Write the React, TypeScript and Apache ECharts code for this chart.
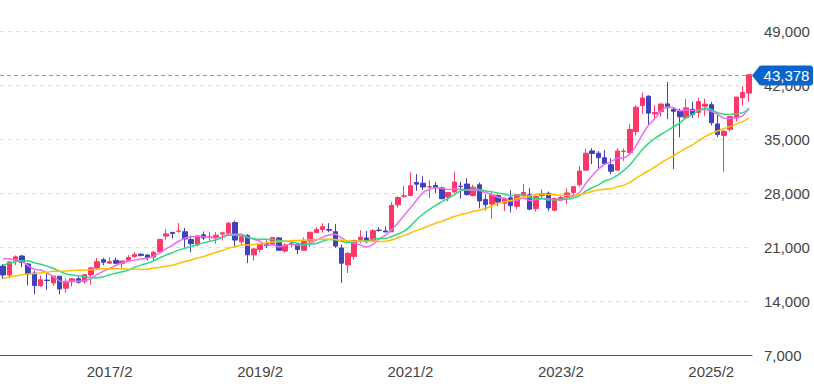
import React, { useEffect, useRef } from "react";
import * as echarts from "echarts";

const categories = [
  "2015/9", "2015/10", "2015/11", "2015/12",
  "2016/1", "2016/2", "2016/3", "2016/4", "2016/5", "2016/6", "2016/7", "2016/8", "2016/9", "2016/10", "2016/11", "2016/12",
  "2017/1", "2017/2", "2017/3", "2017/4", "2017/5", "2017/6", "2017/7", "2017/8", "2017/9", "2017/10", "2017/11", "2017/12",
  "2018/1", "2018/2", "2018/3", "2018/4", "2018/5", "2018/6", "2018/7", "2018/8", "2018/9", "2018/10", "2018/11", "2018/12",
  "2019/1", "2019/2", "2019/3", "2019/4", "2019/5", "2019/6", "2019/7", "2019/8", "2019/9", "2019/10", "2019/11", "2019/12",
  "2020/1", "2020/2", "2020/3", "2020/4", "2020/5", "2020/6", "2020/7", "2020/8", "2020/9", "2020/10", "2020/11", "2020/12",
  "2021/1", "2021/2", "2021/3", "2021/4", "2021/5", "2021/6", "2021/7", "2021/8", "2021/9", "2021/10", "2021/11", "2021/12",
  "2022/1", "2022/2", "2022/3", "2022/4", "2022/5", "2022/6", "2022/7", "2022/8", "2022/9", "2022/10", "2022/11", "2022/12",
  "2023/1", "2023/2", "2023/3", "2023/4", "2023/5", "2023/6", "2023/7", "2023/8", "2023/9", "2023/10", "2023/11", "2023/12",
  "2024/1", "2024/2", "2024/3", "2024/4", "2024/5", "2024/6", "2024/7", "2024/8", "2024/9", "2024/10", "2024/11", "2024/12",
  "2025/1", "2025/2", "2025/3", "2025/4", "2025/5", "2025/6", "2025/7", "2025/8",
];

const tickLabels = ["2017/2", "2019/2", "2021/2", "2023/2", "2025/2"];

const opens = [
  18540, 17385, 19300, 19850,
  18818, 17651, 16006, 16719, 16357, 17229, 15680, 16500, 16900, 16560, 17400, 18300,
  19365, 18925, 19300, 18870, 19300, 19800, 20080, 19985, 19700, 20400, 22440, 22916,
  23073, 23000, 22000, 21300, 22600, 22300, 22300, 22700, 22800, 24200, 21700, 22500,
  20000, 20700, 21500, 21300, 22200, 20500, 21500, 21400, 20600, 21800, 22900, 23300,
  23300, 23000, 20900, 18700, 19800, 22000, 22200, 21900, 23200, 23100, 23000, 26500,
  27600, 27700, 29400, 29300, 28800, 29000, 28700, 27500, 28200, 28900, 29200, 27700,
  29100, 27200, 26600, 27700, 26700, 27400, 26300, 27800, 27800, 26000, 27700, 28000,
  25800, 27300, 27500, 28100, 29100, 31000, 33500, 33200, 32600, 31700, 31000, 33400,
  33300, 36000, 39400, 40600, 38300, 38600, 39600, 38900, 38700, 37800, 38900, 38500,
  39300, 39500, 37000, 35500, 36300, 37900, 40400, 41000,
];

const highs = [
  18770, 19136, 19930, 20013,
  18951, 17905, 17291, 17613, 17251, 17236, 16938, 17000, 17156, 17460, 18455, 19592,
  19615, 19668, 19668, 19290, 19961, 20318, 20223, 20080, 20481, 22012, 23382, 23000,
  24129, 23486, 22502, 22500, 23050, 22966, 22950, 23000, 24286, 24448, 22698, 22698,
  20940, 21556, 21860, 22307, 22300, 21500, 21823, 21500, 22255, 23008, 23608, 24091,
  24115, 23995, 21344, 20366, 21950, 23185, 23111, 23338, 23622, 23672, 26860, 27602,
  28979, 30714, 30485, 30208, 29685, 29480, 28852, 28100, 30796, 29490, 29960, 29121,
  29388, 27880, 28338, 27850, 27410, 28389, 27870, 29222, 28659, 27600, 28502, 28226,
  27434, 27696, 28623, 28880, 31560, 33772, 33853, 33488, 33634, 32533, 33853, 33810,
  36984, 39426, 41088, 40697, 39437, 39667, 42427, 39100, 38984, 40258, 39884, 40398,
  40288, 39865, 38220, 36200, 38000, 40500, 41900, 43451,
];

const lows = [
  16901, 16930, 18680, 18410,
  16017, 14865, 15857, 15471, 15975, 14864, 15106, 15896, 16267, 16300, 16111, 18100,
  18650, 18805, 18800, 18224, 19200, 19600, 19780, 19280, 19240, 20390, 21973, 22120,
  22900, 20950, 20347, 21100, 21930, 21800, 21463, 21851, 22536, 20971, 21243, 18949,
  19241, 20315, 20911, 21300, 20600, 20289, 21000, 20110, 20600, 21000, 22800, 22900,
  22950, 20916, 16358, 17646, 19374, 21530, 21500, 21800, 23000, 22948, 22950, 26121,
  27400, 27600, 28308, 28419, 27385, 28010, 27272, 26954, 28000, 27293, 27700, 27588,
  26045, 25775, 24682, 26320, 25688, 25521, 25935, 27500, 25800, 25621, 27300, 25661,
  25662, 27000, 26632, 27400, 28900, 30900, 31791, 31275, 31674, 30487, 31000, 32205,
  33000, 35500, 38271, 36733, 37617, 37950, 37611, 31156, 35247, 37600, 37786, 37800,
  38055, 36800, 35300, 30793, 36000, 37300, 39400, 39900,
];

const closes = [
  17388, 19083, 19747, 19034,
  17518, 16027, 16759, 16666, 17235, 15576, 16569, 16887, 16450, 17425, 18308, 19114,
  19041, 19119, 18909, 19197, 19651, 20033, 19925, 19646, 20356, 22012, 22725, 22765,
  23098, 22068, 21454, 22468, 22202, 22305, 22554, 22865, 24120, 21920, 22351, 20015,
  20773, 21385, 21206, 22259, 20601, 21276, 21522, 20704, 21756, 22927, 23294, 23657,
  23205, 21143, 18917, 20194, 21878, 22288, 21710, 23140, 23185, 22977, 26434, 27444,
  27663, 28966, 29179, 28813, 28860, 28792, 27284, 28090, 29453, 28893, 27822, 28792,
  27002, 26527, 27821, 26848, 27280, 26393, 27802, 28092, 25937, 27587, 27969, 26095,
  27327, 27446, 28041, 28856, 30888, 33189, 33172, 32619, 31858, 30859, 33487, 33464,
  36287, 39166, 40369, 38406, 38488, 39583, 39102, 38648, 37920, 39081, 38208, 39895,
  39572, 37156, 35618, 36045, 37965, 40487, 41069, 43378,
];

// monthly closes before the visible window (2013/10 - 2015/8), used for the moving averages
const priorCloses = [
  14328, 15662, 16291,
  14915, 14841, 14828, 14304, 14632, 15162, 15621, 15425, 16174, 16414, 17460, 17451,
  17674, 18798, 19207, 19520, 20563, 20236, 20585, 18890,
];

const maPeriods = [6, 12, 24];
const maColors = ["#ee6cf0", "#2fd97c", "#ffbf00"];

function movingAverage(period: number): number[] {
  const all = priorCloses.concat(closes);
  const off = priorCloses.length;
  return closes.map((_, i) => {
    let s = 0;
    for (let k = off + i - period + 1; k <= off + i; k++) s += all[k];
    return Math.round(s / period);
  });
}

const UP = "#ff3768";
const DOWN = "#4141b9";
const TAG = "#0b64c8";
const PRICE_LINE = "#6a9fe2";

export default function App() {
  const ref = useRef<HTMLDivElement>(null);
  useEffect(() => {
    document.body.style.margin = "0";
    const chart = echarts.init(ref.current!, null, { renderer: "svg" });
    const candleData = categories.map((_, i) => [opens[i], closes[i], lows[i], highs[i]]);
    const last = closes[closes.length - 1];
    const font = "'Liberation Sans', Arial, sans-serif";
    chart.setOption({
      animation: false,
      backgroundColor: "#ffffff",
      grid: { left: 0, right: 62, top: 31.5, bottom: 33, containLabel: false },
      xAxis: {
        type: "category",
        data: categories,
        boundaryGap: true,
        axisLine: { show: true, lineStyle: { color: "#555555", width: 1 } },
        axisTick: { show: false },
        splitLine: { show: false },
        axisLabel: {
          interval: (i: number, v: string) => tickLabels.indexOf(v) >= 0,
          color: "#444444",
          fontSize: 15,
          fontFamily: font,
          margin: 9,
        },
      },
      yAxis: {
        type: "value",
        position: "right",
        min: 7000,
        max: 49000,
        interval: 7000,
        axisLine: { show: false },
        axisTick: { show: false },
        splitLine: { show: true, lineStyle: { color: "#dddddd", type: [4, 4], width: 1 } },
        axisLabel: {
          color: "#444444",
          fontSize: 15,
          fontFamily: font,
          margin: 12,
          formatter: (v: number) => v.toLocaleString("en-US"),
        },
      },
      series: [
        {
          type: "candlestick",
          data: candleData,
          barWidth: 5,
          itemStyle: {
            color: UP,
            color0: DOWN,
            borderColor: UP,
            borderColor0: DOWN,
            borderWidth: 1,
          },
          z: 2,
        },
        ...maPeriods.map((p, k) => ({
          type: "line",
          name: "MA" + p,
          data: movingAverage(p),
          smooth: 0.3,
          symbol: "none",
          lineStyle: { color: maColors[k], width: 1.5 },
          z: 3,
        })),
      ],
    });
    const y = Math.round(chart.convertToPixel({ yAxisIndex: 0 }, last) as number) + 0.5;
    const gridRight = 752;
    chart.setOption({
      graphic: [
        {
          type: "line",
          silent: true,
          shape: { x1: 0, y1: y, x2: gridRight, y2: y },
          style: { stroke: PRICE_LINE, lineWidth: 1, lineDash: [4, 3] },
        },
        {
          type: "polygon",
          z: 100,
          shape: { points: [[752, y], [760, y - 10], [760, y + 10]] },
          style: { fill: TAG },
        },
        {
          type: "rect",
          z: 100,
          shape: { x: 759, y: y - 10, width: 54, height: 20, r: 3 },
          style: { fill: TAG },
        },
        {
          type: "text",
          z: 101,
          x: 786.5,
          y: y,
          style: {
            text: last.toLocaleString("en-US"),
            fill: "#ffffff",
            font: "15px 'Liberation Sans', Arial, sans-serif",
            align: "center",
            verticalAlign: "middle",
          },
        },
      ],
    });
    return () => chart.dispose();
  }, []);
  return <div ref={ref} style={{ width: 814, height: 388 }} />;
}
